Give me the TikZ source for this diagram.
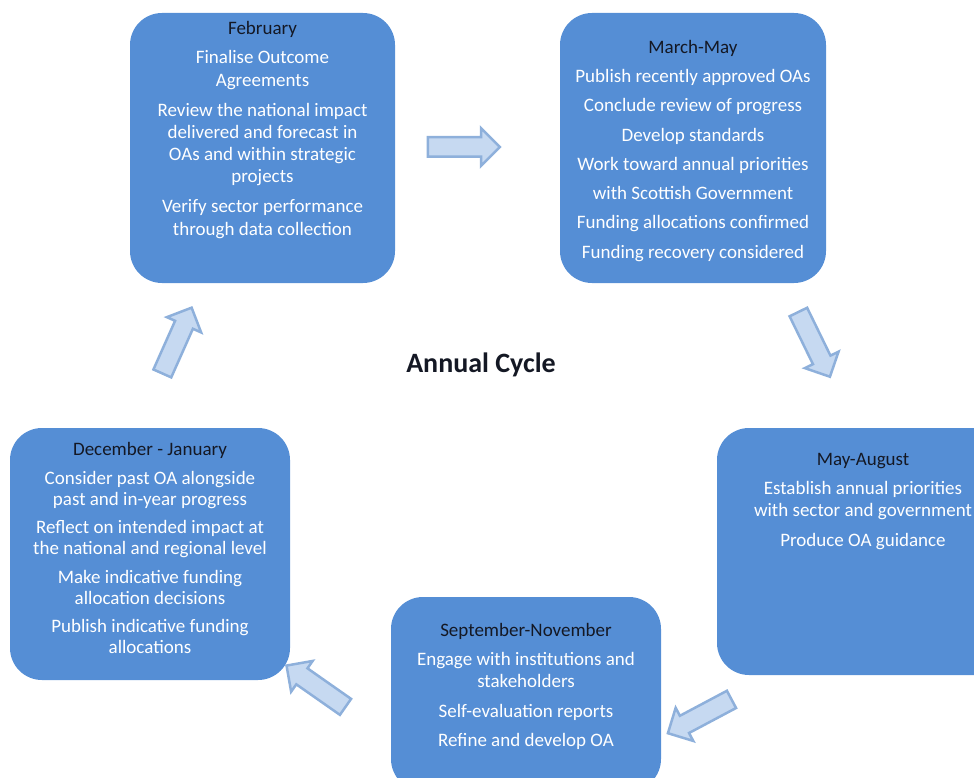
\documentclass[tikz,border=0pt]{standalone}
\usepackage{fontspec}
\setmainfont{Carlito}
\usetikzlibrary{positioning,shapes.arrows}

\definecolor{boxblue}{RGB}{85,142,213}
\definecolor{arrowfill}{RGB}{198,217,241}
\definecolor{arrowline}{RGB}{142,176,219}
\definecolor{titletext}{RGB}{20,24,36}

\begin{document}
\begin{tikzpicture}[x=1pt, y=-1pt,
    month/.style={fill=boxblue, rounded corners=32pt, inner sep=0pt},
    items/.style={text=white, align=center, inner sep=0pt,
      font=\fontsize{19}{22.3}\selectfont},
    blockarrow/.style={single arrow, fill=arrowfill, draw=arrowline,
      line width=2.5pt, inner xsep=0pt, inner ysep=8.5pt,
      minimum height=72pt, single arrow head extend=9pt,
      single arrow head indent=0pt}]
  \useasboundingbox (0,0) rectangle (974,778);
  \clip (0,0) rectangle (974,778);

  % the five stages
  \node[month, minimum width=265pt, minimum height=270pt] (feb) at (262.5,148) {};
  \node[month, minimum width=266pt, minimum height=270pt] (mar) at (693,148) {};
  \node[month, minimum width=292pt, minimum height=247pt] (may) at (863,551.5) {};
  \node[month, minimum width=270pt, minimum height=194pt] (sep) at (526,694) {};
  \node[month, minimum width=280pt, minimum height=252pt] (dec) at (150,554) {};

  \node[items, below=8pt of feb.north] (febtxt) {\textcolor{titletext}{February}\\[7.5pt]
    Finalise Outcome\\ Agreements\\[7.5pt]
    Review the national impact\\ delivered and forecast in\\ OAs and within strategic\\ projects\\[7.5pt]
    Verify sector performance\\ through data collection};
  \node[items, below=27pt of mar.north] (martxt) {\textcolor{titletext}{March-May}\\[7pt]
    Publish recently approved OAs\\[7pt]
    Conclude review of progress\\[7pt]
    Develop standards\\[7pt]
    Work toward annual priorities\\[7pt]
    with Scottish Government\\[7pt]
    Funding allocations confirmed\\[7pt]
    Funding recovery considered};
  \node[items, below=25pt of may.north] (maytxt) {\textcolor{titletext}{May-August}\\[7pt]
    Establish annual priorities\\ with sector and government\\[7pt]
    Produce OA guidance};
  \node[items, below=26pt of sep.north] (septxt) {\textcolor{titletext}{September-November}\\[7pt]
    Engage with institutions and\\ stakeholders\\[7pt]
    Self-evaluation reports\\[7pt]
    Refine and develop OA};
  \node[items, font=\fontsize{19}{21}\selectfont, below=14pt of dec.north] (dectxt) {\textcolor{titletext}{December - January}\\[8pt]
    Consider past OA alongside\\ past and in-year progress\\[7.5pt]
    Reflect on intended impact at\\ the national and regional level\\[7.5pt]
    Make indicative funding\\ allocation decisions\\[7.5pt]
    Publish indicative funding\\ allocations};

  \node[text=titletext, font=\bfseries\fontsize{28}{32}\selectfont] (cycle) at (481,365) {Annual Cycle};

  % arrows round the cycle
  \node[blockarrow] (febmar) at (459,147) {};
  \node[blockarrow, rotate=-64] (marmay) at (812,340) {};
  \node[blockarrow, rotate=208] (maysep) at (704,714) {};
  \node[blockarrow, rotate=145] (sepdec) at (320,689) {};
  \node[blockarrow, rotate=66] (decfeb) at (175,345) {};
\end{tikzpicture}
\end{document}
